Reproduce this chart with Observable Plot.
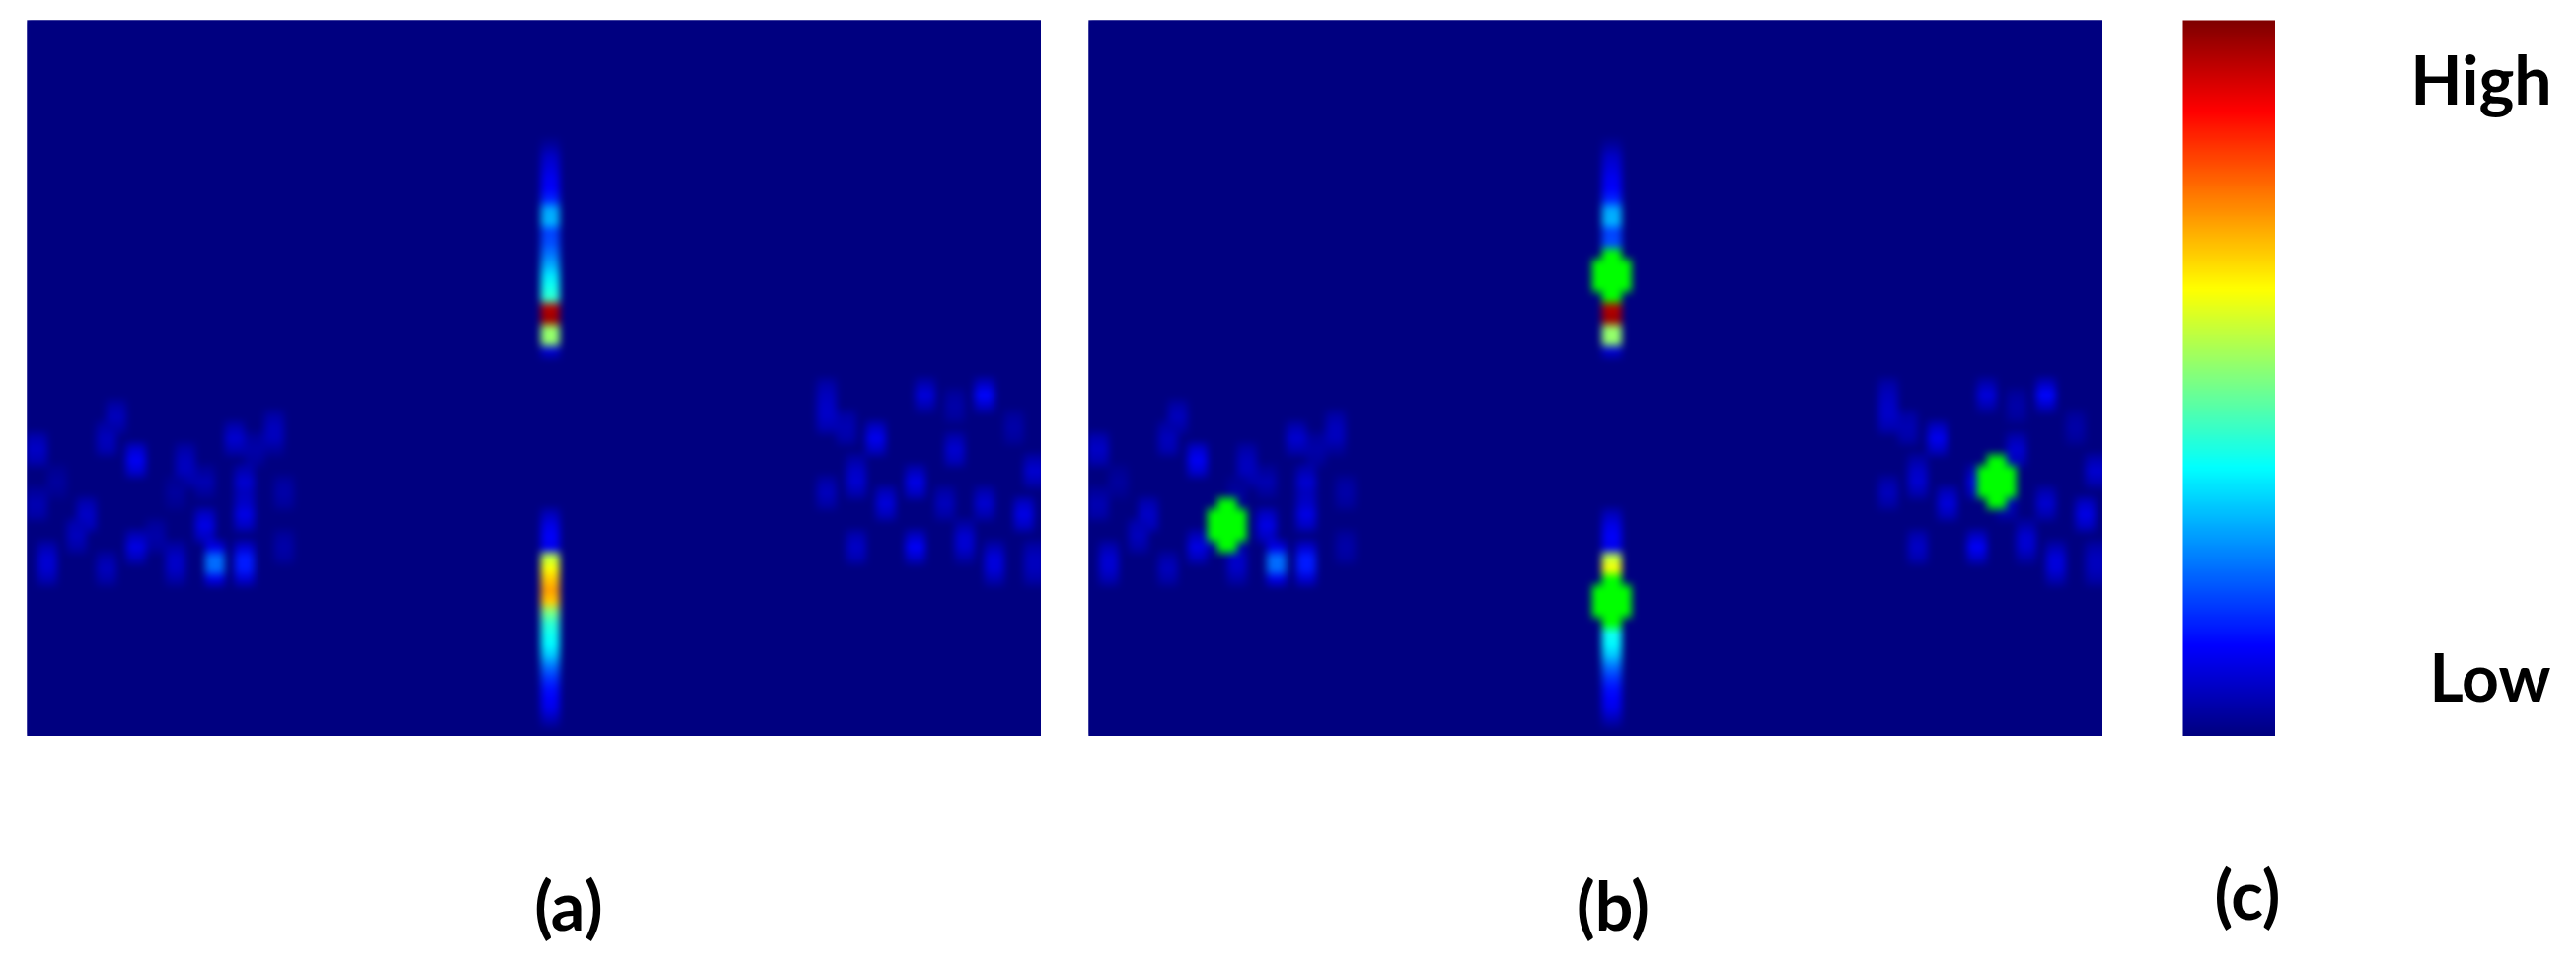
<!DOCTYPE html>
<html>
<head>
<meta charset="utf-8">
<script src="https://cdn.jsdelivr.net/npm/d3@7"></script>
<script src="https://cdn.jsdelivr.net/npm/@observablehq/plot@0.6"></script>
<style>
html,body{margin:0;padding:0;background:#fff;width:2611px;height:982px;overflow:hidden}
.box{position:absolute}
.map image{filter:blur(2.5px)}
.lab{position:absolute;font-family:Lato,"Open Sans",sans-serif;font-weight:700;color:#000;line-height:1;white-space:nowrap}
</style>
</head>
<body>
<div id="root"></div>
<script>
// grid of the radar map: cols x rows cells; every run covers two adjacent columns
const gridCols = 103;
const gridRows = 66;
const jetStops = [0, 0.125, 0.375, 0.625, 0.875, 1];
const jetColors = ["#000080", "#0000ff", "#00ffff", "#ffff00", "#ff0000", "#800000"];
const markerGreen = "#00ff00";
const markerValue = 2;

// vertical runs: [left column, first row, values from top to bottom]
const streakRuns = [
  [52, 11, [.03,.07,.09,.11,.12,.16,.29,.30,.19,.20,.24,.29,.35,.39,.42,.95,.97,.52,.52,.08]],
  [52, 45, [.06,.10,.12,.11,.56,.62,.68,.72,.68,.50,.42,.39,.37,.32,.24,.18,.14,.12,.10,.05]]
];
const leftBlobRuns = [
  [10,39,[.08,.115,.08]],[8,35,[.04,.06,.04]],[7,37,[.04,.06,.05]],[0,38,[.05,.07,.05]],
  [20,37,[.05,.08,.05]],[24,36,[.04,.06,.06,.03]],[15,39,[.04,.06,.06,.04]],[21,41,[.05,.08,.06]],
  [21,44,[.07,.10,.07]],[17,45,[.07,.10,.07]],[5,44,[.05,.07,.06]],[4,46,[.05,.06,.04]],
  [10,47,[.06,.10,.06]],[1,48,[.05,.08,.08,.05]],[7,49,[.04,.06,.04]],[14,48,[.04,.07,.07,.04]],
  [18,48,[.10,.23,.23,.10]],[21,48,[.08,.15,.15,.08]],[0,43,[.03,.05,.04]],[25,42,[.03,.04,.03]],[25,47,[.03,.04,.03]],
  [17,41,[.03,.05,.03]],[12,46,[.03,.04,.03]],[22,38,[.03,.04,.03]],[14,42,[.02,.03,.02]],[2,41,[.02,.03,.02]]
];
const rightBlobRuns = [
  [80,33,[.04,.06,.07,.07,.05]],[85,37,[.07,.11,.07]],[90,33,[.05,.09,.05]],[96,33,[.07,.13,.07]],
  [93,38,[.05,.08,.06]],[83,40,[.04,.07,.08,.05]],[80,42,[.04,.06,.04]],[89,41,[.06,.10,.07]],
  [86,43,[.06,.09,.06]],[92,43,[.04,.06,.04]],[96,43,[.05,.08,.05]],[100,44,[.07,.10,.07]],
  [101,40,[.05,.08,.05]],[83,47,[.05,.07,.05]],[89,47,[.07,.12,.07]],[94,46,[.04,.08,.08,.04]],
  [97,48,[.05,.09,.09,.05]],[101,48,[.04,.06,.06,.04]],[82,36,[.04,.05,.04]],[93,34,[.03,.04,.03]],[99,36,[.03,.04,.03]]
];
// green detection markers of panel (b): [left column of the centre pair, centre row]
const markerCentres = [[52,23],[52,53],[13,46],[91,42]];
const markerShape = [
  [0,-2],[1,-2],[0,2],[1,2],
  [-1,-1],[0,-1],[1,-1],[2,-1],
  [-1,0],[0,0],[1,0],[2,0],
  [-1,1],[0,1],[1,1],[2,1]
];
const panelLabels = ["(a)","(b)","(c)"];
const legendLabels = ["High","Low"];

const jet = d3.scaleLinear().domain(jetStops).range(jetColors).clamp(true);
const colorOptions = {type:"linear", domain:[0,1], clamp:false,
  interpolate: t => t > 1 ? markerGreen : jet(t)};

function cells(withMarkers){
  const v = new Array(gridCols*gridRows).fill(0);
  for (const [c,r0,vals] of [...streakRuns,...leftBlobRuns,...rightBlobRuns])
    vals.forEach((x,i)=>{
      v[(r0+i)*gridCols+c] = x;
      if (c+1 < gridCols) v[(r0+i)*gridCols+c+1] = x;
    });
  if (withMarkers)
    for (const [c,r] of markerCentres)
      for (const [dc,dr] of markerShape) v[(r+dr)*gridCols+c+dc] = markerValue;
  return v;
}
function panel(withMarkers){
  return Plot.plot({
    width:1028, height:726, margin:0,
    x:{domain:[0,102.8],axis:null}, y:{domain:[gridRows,0],axis:null},
    color:colorOptions,
    style:{background:"transparent"},
    marks:[
      Plot.frame({fill:jetColors[0],stroke:null}),
      Plot.raster(cells(withMarkers),{width:gridCols,height:gridRows,x1:0,x2:gridCols,y1:0,y2:gridRows,clip:true})
    ]
  });
}
function bar(){
  const n = 256;
  const vals = d3.range(n).map(i=>1-i/(n-1));
  return Plot.plot({
    width:94, height:726, margin:0,
    x:{domain:[0,1],axis:null}, y:{domain:[n,0],axis:null},
    color:colorOptions,
    style:{background:"transparent"},
    marks:[Plot.raster(vals,{width:1,height:n,x1:0,x2:1,y1:0,y2:n})]
  });
}
const root = document.getElementById("root");
function place(el,l,t,cls){const d=document.createElement("div");d.className="box"+(cls?" "+cls:"");d.style.left=l+"px";d.style.top=t+"px";d.appendChild(el);root.appendChild(d);}
place(panel(false),27,20,"map");
place(panel(true),1103,20,"map");
place(bar(),2212,20);
function label(txt,cx,baseY,size){
  const s=document.createElement("div");s.className="lab";s.textContent=txt;
  s.style.fontSize=size+"px";s.style.left=cx+"px";s.style.top=baseY+"px";
  s.style.transform="translate(-50%,-50%)";root.appendChild(s);
}
label(legendLabels[0],2515,80,68);
label(legendLabels[1],2524,686,66);
label(panelLabels[0],576,917,68);
label(panelLabels[1],1635,917,68);
label(panelLabels[2],2278,906,68);
</script>
</body>
</html>
